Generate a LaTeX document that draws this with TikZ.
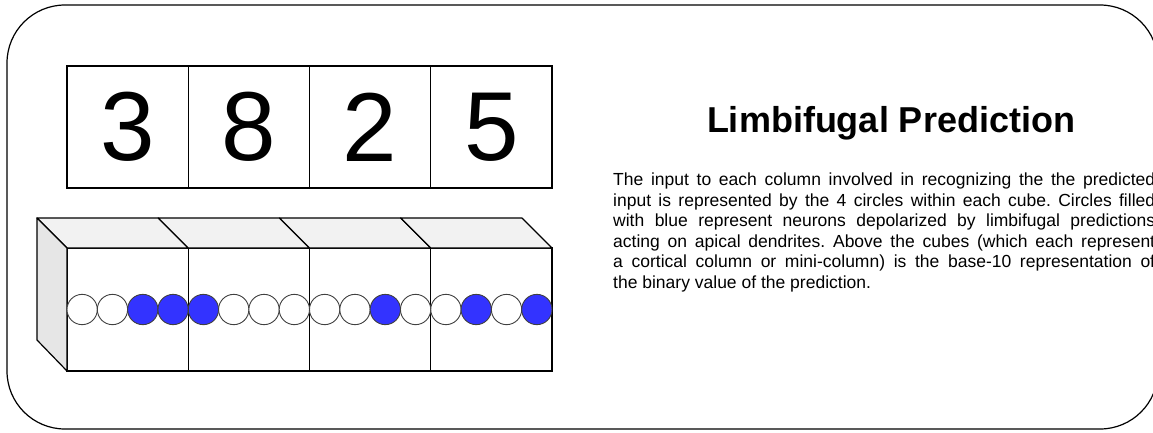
\documentclass[tikz,border=0pt]{standalone}
\usepackage{fontspec}
\setmainfont{Liberation Sans}
\newcommand\cell{121.25}
\newcommand\dep{30}
\newcommand\lft{67}
\usetikzlibrary{positioning}
\definecolor{fired}{HTML}{3333FF}
\definecolor{topgray}{HTML}{F2F2F2}
\definecolor{sidegray}{HTML}{E6E6E6}
\tikzset{digit/.style={rectangle,draw=black,line width=1.2pt,outer sep=0pt,inner sep=0pt,minimum width=\cell pt,minimum height=122pt,font=\fontsize{98}{100}\selectfont},
         face/.style={rectangle,draw=black,line width=1.2pt,outer sep=0pt,inner sep=0pt,minimum width=\cell pt,minimum height=123pt},
         bit0/.style={circle,draw=black!75,line width=0.9pt,fill=white,minimum size=30.3pt,inner sep=0pt},
         bit1/.style={bit0,fill=fired}}
\frenchspacing

\begin{document}
\begin{tikzpicture}[x=1pt,y=-1pt]
                \useasboundingbox (0,0) rectangle (1153,432);
                \draw[line width=1.2pt,rounded corners=58pt] (7,5) rectangle (1158,429);

                % base-10 value above the cubes
                \node[digit] (d1) at (\lft+\cell/2,127) {3};
                \node[digit,right=0pt of d1] (d2) {8};
                \node[digit,right=0pt of d2] (d3) {2};
                \node[digit,right=0pt of d3] (d4) {5};

                % cubes
                \node[face] (f1) at (\lft+\cell/2,309.5) {};
                \node[face,right=0pt of f1] (f2) {};
                \node[face,right=0pt of f2] (f3) {};
                \node[face,right=0pt of f3] (f4) {};
                \foreach \c in {1,...,4}{\filldraw[fill=topgray,line width=1.2pt,line join=round] (f\c.north west) -- ++(-\dep,-\dep) -- ++(\cell,0) -- (f\c.north east) -- cycle;}
                \filldraw[fill=sidegray,line width=1.2pt,line join=round] (f1.north west) -- ++(-\dep,-\dep) -- ++(0,122) -- (f1.south west) -- cycle;

                % neurons, blue = depolarized
                \foreach \c/\bits in {1/{0,0,1,1},2/{1,0,0,0},3/{0,0,1,0},4/{0,1,0,1}}{\foreach \b [count=\j] in \bits \node[bit\b] (n\c\j) at ([xshift={(\j-0.5)*\cell/4*1pt}]f\c.west) {};}

                \node[anchor=base,font=\bfseries\fontsize{36}{40}\selectfont] (title) at (891,132) {Limbifugal Prediction};
                \node[anchor=base west,inner sep=0pt,text width=542pt,align=justify,font=\fontsize{17.5}{20.5}\selectfont] (info) at (613,185.5)
                    {The input to each column involved in recognizing the the predicted\linebreak
                     input is represented by the 4 circles within each cube. Circles filled\linebreak
                     with blue represent neurons depolarized by limbifugal predictions\linebreak
                     acting on apical dendrites. Above the cubes (which each represent\linebreak
                     a cortical column or mini-column) is the base-10 representation of\linebreak
                     the binary value of the prediction.};
            \end{tikzpicture}
\end{document}
